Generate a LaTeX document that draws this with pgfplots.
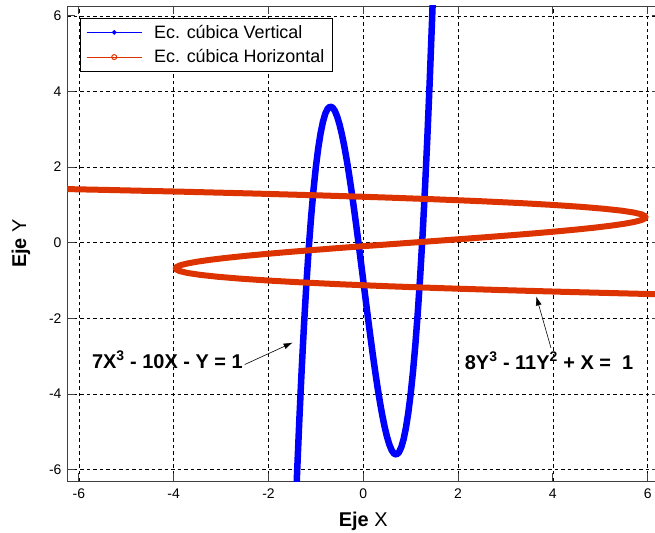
\documentclass[border=0pt]{standalone}
\usepackage{fontspec}
\setmainfont{Liberation Sans}
\usepackage{pgfplots}
\pgfplotsset{compat=1.18}
\usetikzlibrary{arrows.meta}
\definecolor{cvert}{RGB}{0,0,255}
\definecolor{chor}{RGB}{221,51,0}

\begin{document}
\begin{tikzpicture}
\useasboundingbox (-67bp,-52bp) rectangle (588bp,481bp);
\begin{axis}[scale only axis, width=592.5bp, height=475bp,
  xmin=-6.25, xmax=6.25, ymin=-6.3, ymax=6.26,
  xtick={-6,-4,...,6}, ytick={-6,-4,...,6},
  grid=major, major grid style={black, line width=0.6bp, dash pattern=on 3.5bp off 3bp},
  axis line style={black!75, line width=0.9bp},
  tick align=inside, major tick length=8bp, tick style={black!75, line width=0.9bp},
  ticklabel style={font=\fontsize{14}{14}\selectfont},
  xticklabel style={yshift=-4bp}, yticklabel style={xshift=-2bp},
  /pgf/number format/assume math mode=true,
  xlabel={\textbf{Eje} X}, ylabel={\textbf{Eje} Y},
  label style={font=\fontsize{20}{20}\selectfont},
  xlabel style={at={(axis description cs:0.5,-0.084)}, anchor=center},
  ylabel style={at={(axis description cs:-0.0776,0.5)}, anchor=center},
  legend style={at={(axis description cs:0.022,0.975)}, anchor=north west, draw=black, fill=white,
    font=\fontsize{18}{18}\selectfont, inner xsep=6bp, inner ysep=5bp, row sep=6bp,
    /tikz/every odd column/.append style={column sep=10bp}},
  legend cell align=left,
  legend image code/.code={\draw[mark repeat=2,mark phase=2,#1] plot coordinates {(0bp,0bp) (27.5bp,0bp) (55bp,0bp)};}]
% 7X^3 - 10X - Y = 1
\addplot[cvert, line width=6.5bp, line join=round, forget plot] coordinates {
(-1.42,-6.843) (-1.40,-6.208) (-1.35,-4.723) (-1.30,-3.379) (-1.25,-2.172) (-1.20,-1.096) (-1.15,-0.146) (-1.10,0.683) (-1.05,1.397) (-1.00,2.000)
(-0.95,2.498) (-0.90,2.897) (-0.85,3.201) (-0.80,3.416) (-0.75,3.547) (-0.70,3.599) (-0.65,3.578) (-0.60,3.488) (-0.55,3.335) (-0.50,3.125)
(-0.45,2.862) (-0.40,2.552) (-0.35,2.200) (-0.30,1.811) (-0.25,1.391) (-0.20,0.944) (-0.15,0.476) (-0.10,-0.007) (-0.05,-0.501) (0,-1)
(0.05,-1.499) (0.10,-1.993) (0.15,-2.476) (0.20,-2.944) (0.25,-3.391) (0.30,-3.811) (0.35,-4.200) (0.40,-4.552) (0.45,-4.862) (0.50,-5.125)
(0.55,-5.335) (0.60,-5.488) (0.65,-5.578) (0.70,-5.599) (0.75,-5.547) (0.80,-5.416) (0.85,-5.201) (0.90,-4.897) (0.95,-4.498) (1.00,-4.000)
(1.05,-3.397) (1.10,-2.683) (1.15,-1.854) (1.20,-0.904) (1.25,0.172) (1.30,1.379) (1.35,2.723) (1.40,4.208) (1.45,5.840) (1.47,6.536)};
% 8Y^3 - 11Y + X = 1
\addplot[chor, line width=6bp, line join=round, forget plot] coordinates {
(-7.439,1.45) (-5.552,1.40) (-3.833,1.35) (-2.276,1.30) (-0.875,1.25) (0.376,1.20) (1.483,1.15) (2.452,1.10) (3.289,1.05) (4.000,1.00)
(4.591,0.95) (5.068,0.90) (5.437,0.85) (5.704,0.80) (5.875,0.75) (5.956,0.70) (5.953,0.65) (5.872,0.60) (5.719,0.55) (5.500,0.50)
(5.221,0.45) (4.888,0.40) (4.507,0.35) (4.084,0.30) (3.625,0.25) (3.136,0.20) (2.623,0.15) (2.092,0.10) (1.549,0.05) (1.000,0)
(0.451,-0.05) (-0.092,-0.10) (-0.623,-0.15) (-1.136,-0.20) (-1.625,-0.25) (-2.084,-0.30) (-2.507,-0.35) (-2.888,-0.40) (-3.221,-0.45) (-3.500,-0.50)
(-3.719,-0.55) (-3.872,-0.60) (-3.953,-0.65) (-3.956,-0.70) (-3.875,-0.75) (-3.704,-0.80) (-3.437,-0.85) (-3.068,-0.90) (-2.591,-0.95) (-2.000,-1.00)
(-1.289,-1.05) (-0.452,-1.10) (0.517,-1.15) (1.624,-1.20) (2.875,-1.25) (4.276,-1.30) (5.833,-1.35) (7.552,-1.40)};
\addlegendimage{cvert, line width=1bp, mark=*, mark size=1.8bp}
\addlegendentry{Ec. cúbica Vertical}
\addlegendimage{chor, line width=1bp, mark=o, mark size=2.5bp, mark options={fill=white}}
\addlegendentry{Ec. cúbica Horizontal}
\node[anchor=east, inner sep=0pt, font=\fontsize{20}{20}\selectfont\bfseries] at (axis cs:-2.54,-3.09) {7X\textsuperscript{3} - 10X - Y = 1};
\draw[-{Latex[length=9bp,width=6bp]}, line width=0.6bp] (axis cs:-2.50,-3.22) -- (axis cs:-1.49,-2.64);
\node[anchor=west, inner sep=0pt, font=\fontsize{20}{20}\selectfont\bfseries] at (axis cs:2.14,-3.12) {8Y\textsuperscript{3} - 11Y\textsuperscript{2} + X =\ \ 1};
\draw[-{Latex[length=9bp,width=6bp]}, line width=0.6bp] (axis cs:3.96,-2.78) -- (axis cs:3.65,-1.42);
\end{axis}
\end{tikzpicture}
\end{document}
